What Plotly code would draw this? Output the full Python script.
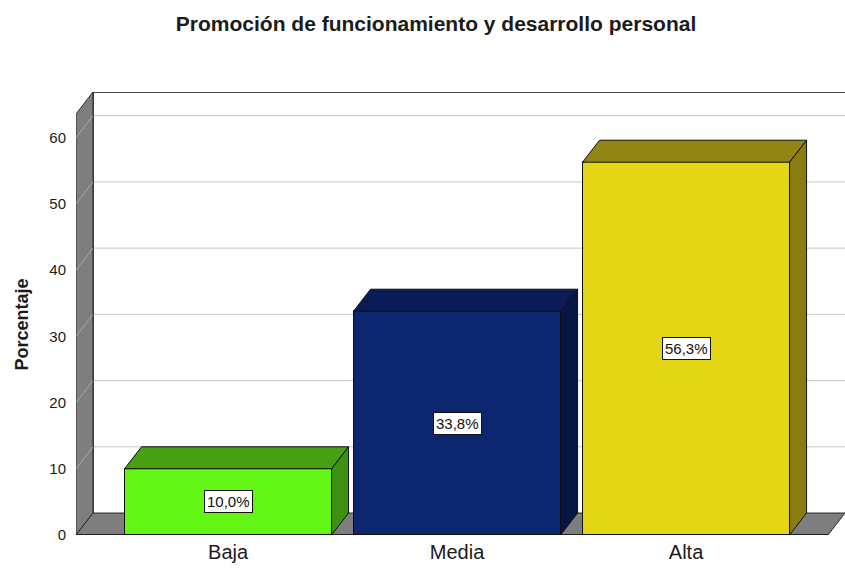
import plotly.graph_objects as go

# Data
categories = ["Baja", "Media", "Alta"]
percentages = [10.0, 33.8, 56.3]
value_labels = ["10,0%", "33,8%", "56,3%"]
y_ticks = [0, 10, 20, 30, 40, 50, 60]

# Styling
front_colors = ["#63F514", "#0C2670", "#E3D615"]
top_colors = ["#46A012", "#0A1B55", "#938513"]
side_colors = ["#3D9010", "#081646", "#8A7C10"]
FONT = "Liberation Sans, Arial, sans-serif"
TEXT = "#1b1b1b"

# 3D geometry, in axis units
X_MIN, X_MAX = -0.664, 2.694
Y_MAX = 66.9
BAR_W = 0.904
DX, DY = 0.0742, 3.32          # depth offset of the back plane
WALL_TOP = Y_MAX - DY          # front top of the left wall

xs = list(range(len(categories)))
fig = go.Figure()

# Front faces of the bars
fig.add_trace(go.Bar(
    x=xs, y=percentages, width=BAR_W,
    marker=dict(color=front_colors, line=dict(color="#101010", width=1)),
    hoverinfo="skip", showlegend=False,
))

# Top and side faces
for x, v, tc, sc in zip(xs, percentages, top_colors, side_colors):
    l, r = x - BAR_W / 2, x + BAR_W / 2
    fig.add_trace(go.Scatter(
        x=[l, l + DX, r + DX, r, l], y=[v, v + DY, v + DY, v, v],
        mode="lines", fill="toself", fillcolor=tc,
        line=dict(color="#101010", width=1),
        hoverinfo="skip", showlegend=False,
    ))
    fig.add_trace(go.Scatter(
        x=[r, r + DX, r + DX, r, r], y=[0, DY, v + DY, v, 0],
        mode="lines", fill="toself", fillcolor=sc,
        line=dict(color="#101010", width=1),
        hoverinfo="skip", showlegend=False,
    ))

shapes = []
bx = X_MIN + DX
# Back-wall gridlines
for t in y_ticks[1:]:
    shapes.append(dict(type="line", layer="below", xref="x", yref="y",
                       x0=bx, x1=X_MAX, y0=t + DY, y1=t + DY,
                       line=dict(color="#C8C8C8", width=1)))
# Back-wall border (top and left edges)
shapes.append(dict(type="path", layer="below", xref="x", yref="y",
                   path=f"M {X_MAX},{Y_MAX} L {bx},{Y_MAX} L {bx},{DY}",
                   line=dict(color="#111111", width=1.5)))
# Left wall
shapes.append(dict(type="path", layer="below", xref="x", yref="y",
                   path=f"M {X_MIN},0 L {X_MIN},{WALL_TOP} L {bx},{Y_MAX} L {bx},{DY} Z",
                   fillcolor="#7E7E7E", line=dict(color="#2a2a2a", width=1)))
for t in y_ticks[1:]:
    shapes.append(dict(type="line", layer="below", xref="x", yref="y",
                       x0=X_MIN, x1=bx, y0=t, y1=t + DY,
                       line=dict(color="#A9A9A9", width=1)))
# Floor
shapes.append(dict(type="path", layer="below", xref="x", yref="y",
                   path=f"M {X_MIN},0 L {X_MAX - DX},0 L {X_MAX},{DY} L {bx},{DY} Z",
                   fillcolor="#7E7E7E", line=dict(color="#2a2a2a", width=1)))
shapes.append(dict(type="line", layer="above", xref="x", yref="y",
                   x0=X_MIN, x1=X_MAX - DX, y0=0, y1=0,
                   line=dict(color="#111111", width=1.5)))

# Value labels centred on the bars
annotations = [
    dict(x=x, y=v / 2, text=t, showarrow=False,
         font=dict(family=FONT, size=15, color="#111111"),
         bgcolor="white", bordercolor="#111111", borderwidth=1, borderpad=2)
    for x, v, t in zip(xs, percentages, value_labels)
]
# Y-axis title, centred on the front wall
annotations.append(dict(
    text="<b>Porcentaje</b>", textangle=-90, showarrow=False,
    xref="paper", yref="y", x=-0.0702, y=WALL_TOP / 2,
    xanchor="center", yanchor="middle",
    font=dict(family=FONT, size=18, color=TEXT),
))

fig.update_layout(
    width=845, height=572,
    margin=dict(l=76, r=0, t=92, b=37),
    paper_bgcolor="white", plot_bgcolor="white",
    title=dict(text="<b>Promoción de funcionamiento y desarrollo personal</b>",
               x=0.516, xanchor="center", y=0.958, yanchor="middle",
               font=dict(family=FONT, size=21, color=TEXT)),
    xaxis=dict(range=[X_MIN, X_MAX], tickvals=xs, ticktext=categories,
               showgrid=False, zeroline=False, showline=False, ticks="",
               ticklabelstandoff=3,
               tickfont=dict(family=FONT, size=20, color=TEXT),
               fixedrange=True),
    yaxis=dict(range=[0, Y_MAX], tickvals=y_ticks, showgrid=False,
               zeroline=False, showline=False, ticks="outside", ticklen=6,
               tickcolor="rgba(0,0,0,0)",
               tickfont=dict(family=FONT, size=15, color=TEXT),
               fixedrange=True),
    shapes=shapes,
    annotations=annotations,
    bargap=0,
    showlegend=False,
)

fig.write_html("out.html")
